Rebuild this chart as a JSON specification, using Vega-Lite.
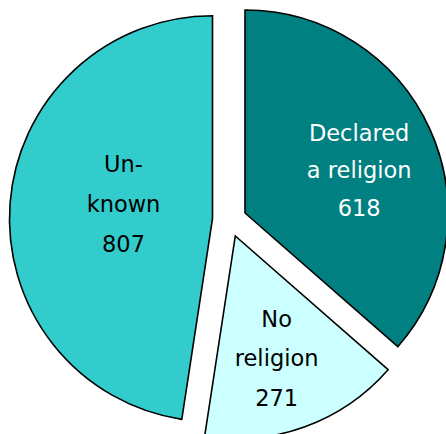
{
  "$schema": "https://vega.github.io/schema/vega-lite/v6.json",
  "width": 446,
  "height": 434,
  "autosize": {"type": "fit", "contains": "padding"},
  "padding": {"left": 12, "top": 12, "right": 0, "bottom": 0},
  "background": "white",
  "view": {"stroke": null},
  "data": {
    "values": [
      {"cat": "Declared a religion", "label": "Declared\na religion\n618", "value": 618, "rank": 1},
      {"cat": "No religion", "label": "No\nreligion\n271", "value": 271, "rank": 2},
      {"cat": "Unknown", "label": "Un-\nknown\n807", "value": 807, "rank": 3}
    ]
  },
  "encoding": {
    "theta": {"field": "value", "type": "quantitative", "stack": true},
    "order": {"field": "rank", "type": "quantitative"},
    "color": {
      "field": "cat",
      "type": "nominal",
      "scale": {"domain": ["Declared a religion", "No religion", "Unknown"], "range": ["#008080", "#CCFFFF", "#33CCCC"]},
      "legend": null
    }
  },
  "layer": [
    {
      "mark": {"type": "arc", "radius": 203, "stroke": "black", "strokeWidth": 1.6, "strokeJoin": "miter", "xOffset": 15.5, "yOffset": -7},
      "encoding": {"opacity": {"condition": {"test": "datum.cat === 'Declared a religion'", "value": 1}, "value": 0}}
    },
    {
      "mark": {"type": "arc", "radius": 203, "stroke": "black", "strokeWidth": 1.6, "strokeJoin": "miter", "xOffset": 5.8, "yOffset": 16},
      "encoding": {"opacity": {"condition": {"test": "datum.cat === 'No religion'", "value": 1}, "value": 0}}
    },
    {
      "mark": {"type": "arc", "radius": 203, "stroke": "black", "strokeWidth": 1.6, "strokeJoin": "miter", "xOffset": -17, "yOffset": -1.3},
      "encoding": {"opacity": {"condition": {"test": "datum.cat === 'Unknown'", "value": 1}, "value": 0}}
    },
    {
      "mark": {"type": "text", "radius": 121.5, "font": "DejaVu Sans", "fontSize": 22.5, "lineBreak": "\n", "lineHeight": 37.5, "align": "center", "baseline": "middle", "xOffset": 19, "yOffset": -36},
      "encoding": {
        "text": {"field": "label"},
        "color": {"value": "white"},
        "opacity": {"condition": {"test": "datum.cat === 'Declared a religion'", "value": 1}, "value": 0}
      }
    },
    {
      "mark": {"type": "text", "radius": 142, "font": "DejaVu Sans", "fontSize": 22.5, "lineBreak": "\n", "lineHeight": 39.5, "align": "center", "baseline": "middle", "xOffset": -1.6, "yOffset": -33.5},
      "encoding": {
        "text": {"field": "label"},
        "color": {"value": "black"},
        "opacity": {"condition": {"test": "datum.cat === 'No religion'", "value": 1}, "value": 0}
      }
    },
    {
      "mark": {"type": "text", "radius": 107, "font": "DejaVu Sans", "fontSize": 22.5, "lineBreak": "\n", "lineHeight": 40, "align": "center", "baseline": "middle", "xOffset": 0.7, "yOffset": -47.3},
      "encoding": {
        "text": {"field": "label"},
        "color": {"value": "black"},
        "opacity": {"condition": {"test": "datum.cat === 'Unknown'", "value": 1}, "value": 0}
      }
    }
  ]
}
